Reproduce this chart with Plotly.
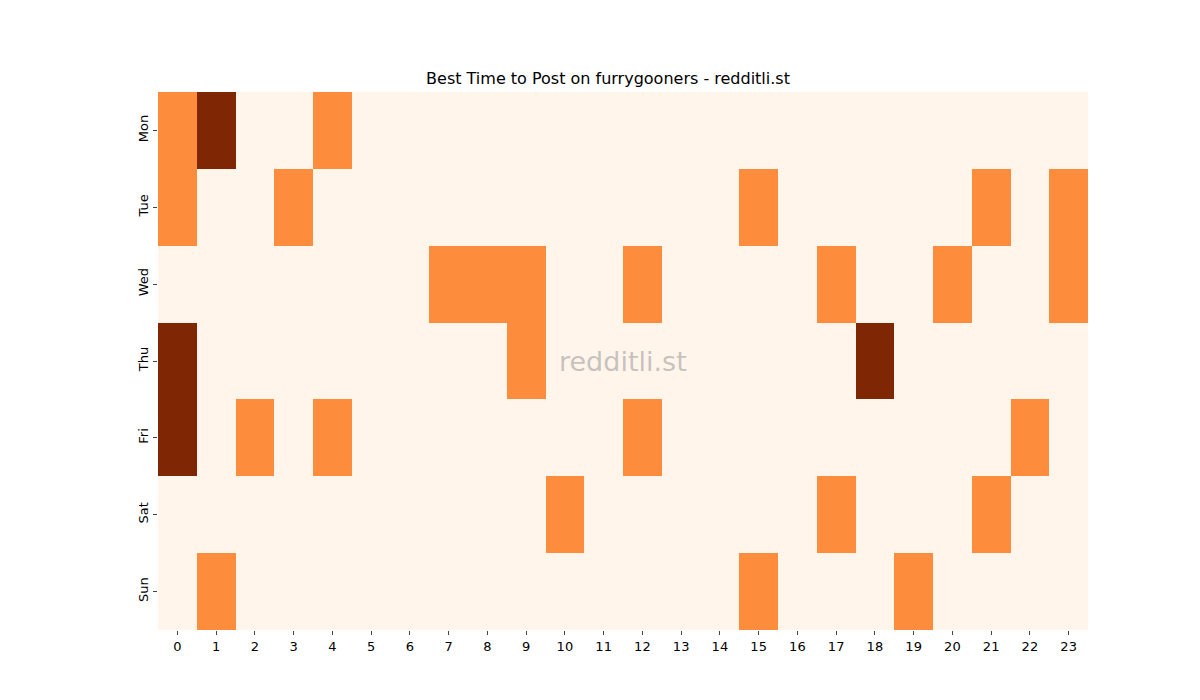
import plotly.graph_objects as go

days = ['Mon', 'Tue', 'Wed', 'Thu', 'Fri', 'Sat', 'Sun']
hours = list(range(24))

# post activity level per day (0 = none, 1 = some, 2 = most)
mon = [1, 2, 0, 0, 1, 0, 0, 0, 0, 0, 0, 0, 0, 0, 0, 0, 0, 0, 0, 0, 0, 0, 0, 0]
tue = [1, 0, 0, 1, 0, 0, 0, 0, 0, 0, 0, 0, 0, 0, 0, 1, 0, 0, 0, 0, 0, 1, 0, 1]
wed = [0, 0, 0, 0, 0, 0, 0, 1, 1, 1, 0, 0, 1, 0, 0, 0, 0, 1, 0, 0, 1, 0, 0, 1]
thu = [2, 0, 0, 0, 0, 0, 0, 0, 0, 1, 0, 0, 0, 0, 0, 0, 0, 0, 2, 0, 0, 0, 0, 0]
fri = [2, 0, 1, 0, 1, 0, 0, 0, 0, 0, 0, 0, 1, 0, 0, 0, 0, 0, 0, 0, 0, 0, 1, 0]
sat = [0, 0, 0, 0, 0, 0, 0, 0, 0, 0, 1, 0, 0, 0, 0, 0, 0, 1, 0, 0, 0, 1, 0, 0]
sun = [0, 1, 0, 0, 0, 0, 0, 0, 0, 0, 0, 0, 0, 0, 0, 1, 0, 0, 0, 1, 0, 0, 0, 0]

z = [mon, tue, wed, thu, fri, sat, sun]

fig = go.Figure(go.Heatmap(
    z=z, x=hours, y=days, zmin=0, zmax=2, showscale=False,
    colorscale=[[0, '#fff5eb'], [0.5, '#fd8d3c'], [1, '#7f2704']],
    hoverinfo='skip',
))

fig.add_annotation(text='redditli.st', x=0.5, y=0.5, xref='paper', yref='paper',
                   showarrow=False, font=dict(size=27, color='rgba(150,150,150,0.55)'))

fig.update_layout(
    width=1200, height=700,
    margin=dict(l=150, r=120, t=84, b=78),
    plot_bgcolor='white', paper_bgcolor='white',
    font=dict(family='DejaVu Sans', size=13, color='black'),
    title=dict(text='Best Time to Post on furrygooners - redditli.st',
               x=0.5, xanchor='center', y=0.9, yanchor='middle', font=dict(size=16)),
)
fig.update_xaxes(tickmode='array', tickvals=hours, ticks='outside', ticklen=4,
                 showgrid=False, zeroline=False)
fig.update_yaxes(autorange='reversed', tickangle=-90, ticks='outside', ticklen=4,
                 showgrid=False, zeroline=False)

fig.write_html('out.html')
